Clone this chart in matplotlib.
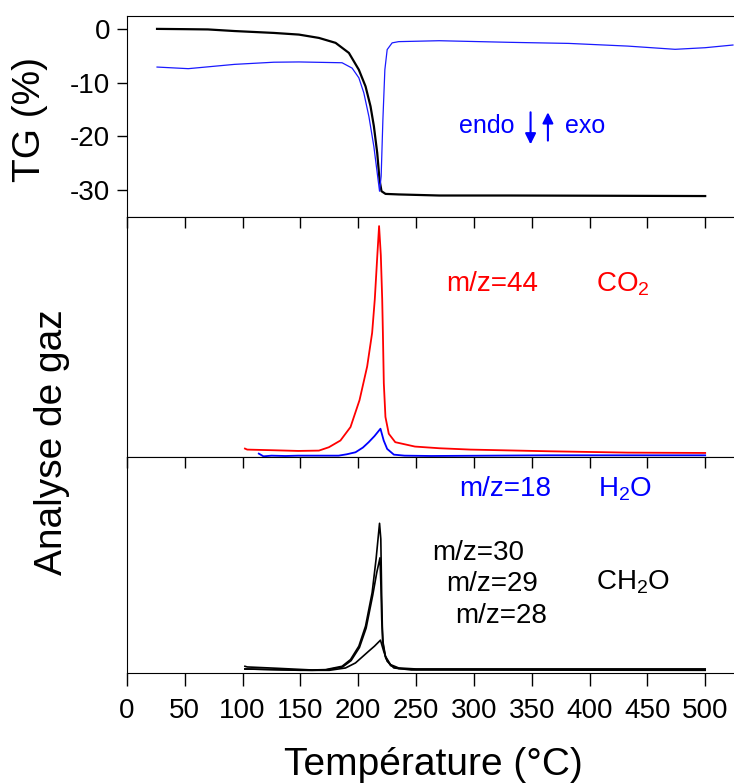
import matplotlib
matplotlib.use("Agg")
import matplotlib.pyplot as plt

plt.rcParams['font.family'] = ['Liberation Sans', 'DejaVu Sans']
plt.rcParams['axes.unicode_minus'] = False
plt.rcParams['mathtext.default'] = 'regular'

# TG (black) and DTA (blue) in the top panel
tg_T = [26, 50, 70, 93, 127, 148.7, 166, 180.4, 191.9, 200.5, 206.3, 210.6, 213.5, 216.4, 218.4, 220.1,
        223.6, 235, 270, 331, 420, 500]
tg_v = [0, -0.05, -0.1, -0.4, -0.75, -1.06, -1.68, -2.6, -4.47, -7.6, -10.7, -14.4, -18.1, -23.1, -28.1,
        -30.2, -30.7, -30.8, -31.0, -31.0, -31.05, -31.1]
dta_T = [26, 53, 93, 127, 148.7, 186, 194.7, 200.5, 204.8, 209.2, 213.5, 216.4, 218.4, 219.8, 221.3, 223,
         225, 229.3, 235, 270, 331, 382, 433, 474, 500, 524]
dta_v = [-7.1, -7.4, -6.6, -6.2, -6.15, -6.3, -7.3, -9.1, -11.9, -16.3, -21.9, -26.8, -30.2, -27.4, -16.9,
         -7.6, -3.85, -2.6, -2.37, -2.2, -2.5, -2.7, -3.2, -3.8, -3.5, -3.0]

# mass spec, middle panel
co2_T = [102, 104, 127, 148, 166, 174.6, 184.6, 193.3, 201.1, 207.7, 212, 214.3, 216.5, 218, 219.5, 220.7,
         221.3, 222.1, 223.5, 226.4, 232, 249, 270, 297, 365, 433, 500]
co2_h = [25, 22, 20, 18, 19, 29, 49, 89, 169, 269, 369, 469, 600, 686, 600, 469, 369, 219, 119, 69, 44, 31,
         26, 22, 17, 13, 12]
h2o_T = [114, 118, 125, 137, 148, 170, 183, 190, 197.6, 204, 209, 214, 219.2, 222, 225, 230.8, 240, 263,
         365, 500]
h2o_h = [10, 2, 4, 3, 4, 4, 4, 8, 14, 28, 44, 62, 84, 49, 24, 7, 4, 3, 5, 5]

# mass spec, bottom panel (CH2O fragments)
m30_T = [102, 104, 130, 160, 171.7, 186, 193.3, 200.5, 206.3, 212, 215.4, 218.4, 219.5, 220.2, 220.8,
         221.5, 223.5, 227.9, 235, 250, 331, 500]
m30_h = [20, 18, 14, 9, 10, 20, 40, 80, 140, 240, 340, 447, 400, 240, 140, 90, 50, 25, 15, 12, 12, 12]
m29_T = [102, 130, 160, 172, 186.5, 193.8, 201, 206.8, 212.5, 216, 218.8, 219.6, 220.3, 221, 221.7, 223.7,
         228, 235, 250, 331, 500]
m29_h = [12, 10, 8, 9, 18, 37, 76, 134, 232, 300, 344, 260, 160, 100, 80, 45, 22, 13, 11, 11, 11]
m28_T = [102, 150, 175, 189, 197.6, 209, 214, 219.2, 222, 225, 230.8, 246, 500]
m28_h = [12, 8, 8, 15, 30, 65, 80, 98, 65, 35, 15, 9, 8]

x_ticks = [0, 50, 100, 150, 200, 250, 300, 350, 400, 450, 500]
tg_ticks = [0, -10, -20, -30]

fig = plt.figure(figsize=(7.34, 7.84), dpi=100)
left, width = 0.173, 0.835
ax1 = fig.add_axes([left, 0.7232, width, 0.2564])
ax2 = fig.add_axes([left, 0.4171, width, 0.3061])
ax3 = fig.add_axes([left, 0.1416, width, 0.2755])

for ax in (ax1, ax2, ax3):
    ax.set_xlim(0, 530)
    ax.spines['right'].set_visible(False)
    ax.set_xticks(x_ticks)

ax1.plot(tg_T, tg_v, color='black', lw=1.6)
ax1.plot(dta_T, dta_v, color='#1a1aff', lw=0.9)
ax1.set_ylim(-35, 2.4)
ax1.set_yticks(tg_ticks)
ax1.set_yticklabels([str(t) for t in tg_ticks])
ax1.tick_params(axis='y', direction='out', length=7, width=1, labelsize=20, pad=5)
ax1.tick_params(axis='x', bottom=False, labelbottom=False)
ax1.text(287, -18, 'endo', color='blue', fontsize=18, va='center', ha='left')
ax1.text(379, -18, 'exo', color='blue', fontsize=18, va='center', ha='left')
ax1.annotate('', xy=(349, -22), xytext=(349, -15),
             arrowprops=dict(arrowstyle='-|>', color='blue', lw=1.5, mutation_scale=16))
ax1.annotate('', xy=(364, -15), xytext=(364, -21.3),
             arrowprops=dict(arrowstyle='-|>', color='blue', lw=1.5, mutation_scale=16))

ax2.plot(co2_T, co2_h, color='red', lw=1.3)
ax2.plot(h2o_T, h2o_h, color='blue', lw=1.3)
ax2.set_ylim(0, 713)
ax2.set_yticks([])
ax2.tick_params(axis='x', top=True, bottom=False, labelbottom=False, direction='in', length=8, width=1)
ax2.text(276, 513, 'm/z=44', color='red', fontsize=20, va='center')
ax2.text(406, 513, 'CO$_2$', color='red', fontsize=20, va='center')

ax3.plot(m30_T, m30_h, color='black', lw=1.2)
ax3.plot(m29_T, m29_h, color='black', lw=1.2)
ax3.plot(m28_T, m28_h, color='black', lw=1.2)
ax3.set_ylim(0, 645)
ax3.set_yticks([])
ax3.tick_params(axis='x', top=True, direction='in', length=8, width=1)
ax3.xaxis.set_tick_params(which='major', labelsize=20)
for t in ax3.xaxis.get_major_ticks():
    t.tick1line.set_marker(3)  # bottom ticks point outwards
    t.tick1line.set_markersize(9)
    t.label1.set_y(-0.095)
ax3.text(287, 550, 'm/z=18', color='blue', fontsize=20, va='center')
ax3.text(407, 550, 'H$_2$O', color='blue', fontsize=20, va='center')
ax3.text(263.6, 357, 'm/z=30', color='black', fontsize=20, va='center')
ax3.text(275.8, 265, 'm/z=29', color='black', fontsize=20, va='center')
ax3.text(284, 170, 'm/z=28', color='black', fontsize=20, va='center')
ax3.text(406, 270, 'CH$_2$O', color='black', fontsize=20, va='center')

fig.text(30 / 734, 1 - 120 / 784, 'TG (%)', fontsize=28, rotation=90, ha='center', va='center')
fig.text(52 / 734, 1 - 442 / 784, 'Analyse de gaz', fontsize=28, rotation=90, ha='center', va='center')
fig.text(433 / 734, 1 - 765 / 784, 'Température (°C)', fontsize=28, ha='center', va='center')

fig.savefig('out.png', dpi=100)
